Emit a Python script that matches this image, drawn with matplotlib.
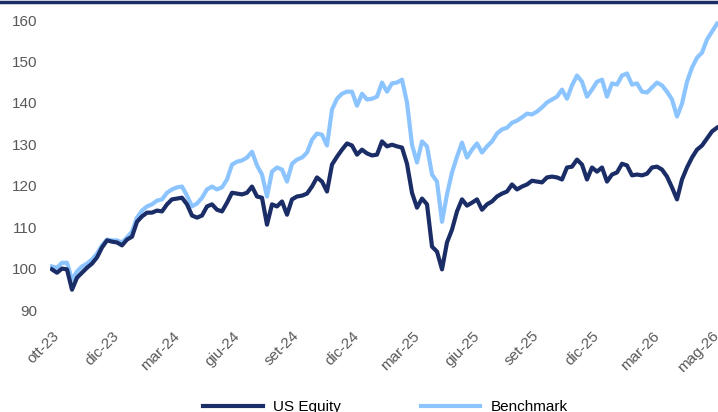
import numpy as np
import matplotlib.pyplot as plt
from matplotlib.lines import Line2D

plt.rcParams['font.family'] = ['Liberation Sans', 'DejaVu Sans']

# valori (campioni circa settimanali)
us_equity = [
    99.8, 99.0, 100.0, 99.8, 94.9, 97.8, 99.0, 100.2, 101.2, 102.7,
    105.1, 106.8, 106.5, 106.3, 105.6, 107.0, 107.7, 111.3, 112.6, 113.5,
    113.5, 114.0, 113.8, 115.5, 116.7, 116.9, 117.1, 115.5, 112.8, 112.3,
    112.8, 115.0, 115.5, 114.2, 113.8, 115.9, 118.3, 118.1, 117.9, 118.3,
    119.8, 117.4, 117.1, 110.6, 115.5, 115.0, 116.2, 113.0, 116.7, 117.4,
    117.6, 118.1, 119.8, 122.0, 121.0, 118.6, 125.1, 127.0, 128.7, 130.2,
    129.7, 127.5, 128.7, 127.8, 127.3, 127.5, 130.7, 129.5, 129.9, 129.5,
    129.2, 125.3, 118.3, 114.7, 116.9, 115.5, 105.3, 104.1, 99.8, 106.3,
    109.4, 113.8, 116.7, 115.2, 115.9, 116.7, 114.2, 115.5, 116.2, 117.4,
    118.1, 118.6, 120.3, 119.1, 119.8, 120.3, 121.2, 121.0, 120.8, 122.0,
    122.2, 122.0, 121.5, 124.4, 124.6, 126.3, 125.1, 121.5, 124.4, 123.4,
    124.4, 121.0, 122.7, 123.2, 125.3, 124.9, 122.5, 122.7, 122.5, 122.9,
    124.4, 124.6, 123.9, 122.2, 119.6, 116.7, 121.5, 124.4, 126.8, 128.7,
    129.7, 131.4, 133.1, 134.0,
]

benchmark = [
    100.5, 100.2, 101.4, 101.4, 97.3, 99.3, 100.5, 101.2, 102.2, 103.6,
    105.6, 107.0, 106.8, 106.8, 106.3, 107.5, 108.9, 112.3, 114.0, 115.0,
    115.5, 116.4, 116.7, 118.3, 119.1, 119.6, 119.8, 117.6, 115.0, 115.7,
    117.1, 119.1, 119.8, 119.1, 119.6, 121.5, 125.1, 125.8, 126.1, 126.8,
    128.2, 124.9, 122.7, 117.4, 123.4, 124.4, 123.9, 121.0, 125.3, 126.3,
    126.8, 128.0, 131.1, 132.6, 132.3, 129.7, 138.4, 141.0, 142.2, 142.7,
    142.7, 139.3, 142.2, 140.8, 141.0, 141.5, 144.9, 142.7, 144.7, 144.9,
    145.6, 140.1, 129.9, 125.6, 130.7, 129.5, 122.7, 121.0, 111.3, 117.9,
    123.2, 127.0, 130.4, 126.8, 128.7, 130.2, 128.0, 129.5, 130.7, 132.6,
    133.6, 134.0, 135.2, 135.7, 136.5, 137.4, 137.2, 137.9, 138.9, 140.1,
    140.8, 141.5, 143.2, 141.0, 144.2, 146.6, 145.1, 141.5, 143.2, 145.1,
    145.6, 141.5, 144.7, 144.4, 146.6, 147.1, 144.4, 144.7, 142.7, 142.5,
    143.7, 144.9, 144.2, 142.7, 140.8, 136.7, 139.8, 145.1, 148.5, 150.9,
    152.1, 155.3, 157.2, 159.1,
]

tick_labels = ['ott-23', 'dic-23', 'mar-24', 'giu-24', 'set-24', 'dic-24',
               'mar-25', 'giu-25', 'set-25', 'dic-25', 'mar-26', 'mag-26']

navy = '#1b2d66'
light = '#8cc4ff'
grey = '#595959'

fig = plt.figure(figsize=(7.18, 4.12), dpi=100)
ax = fig.add_axes([50 / 718, 1 - 310 / 412, 668 / 718, 290 / 412])

x_us = np.arange(len(us_equity))
x_bm = np.arange(len(benchmark))
l_bm, = ax.plot(x_bm, benchmark, color=light, lw=3.0, solid_joinstyle='round')
l_us, = ax.plot(x_us, us_equity, color=navy, lw=3.0, solid_joinstyle='round')

ax.set_xlim(-0.4, 133.2)
ax.set_ylim(90, 160)
ax.set_yticks(np.arange(90, 161, 10))
ax.set_xticks(np.arange(1, 1 + 12 * len(tick_labels), 12))
ax.set_xticklabels(tick_labels, rotation=45, ha='right', va='center',
                   rotation_mode='anchor')
ax.tick_params(axis='both', length=0, labelsize=11, labelcolor=grey)
ax.tick_params(axis='x', pad=17)
ax.tick_params(axis='y', pad=9)
for s in ax.spines.values():
    s.set_visible(False)

# linea in alto
fig.add_artist(Line2D([0, 1], [1 - 1.5 / 412, 1 - 1.5 / 412],
                      transform=fig.transFigure, color=navy, lw=2.5))

fig.legend([l_us, l_bm], ['US Equity', 'Benchmark'], loc='center',
           bbox_to_anchor=(0.537, 0.012), ncol=2, frameon=False,
           fontsize=11, handlelength=3.9, columnspacing=5.2,
           handletextpad=0.7)

fig.savefig('out.png', dpi=100)
